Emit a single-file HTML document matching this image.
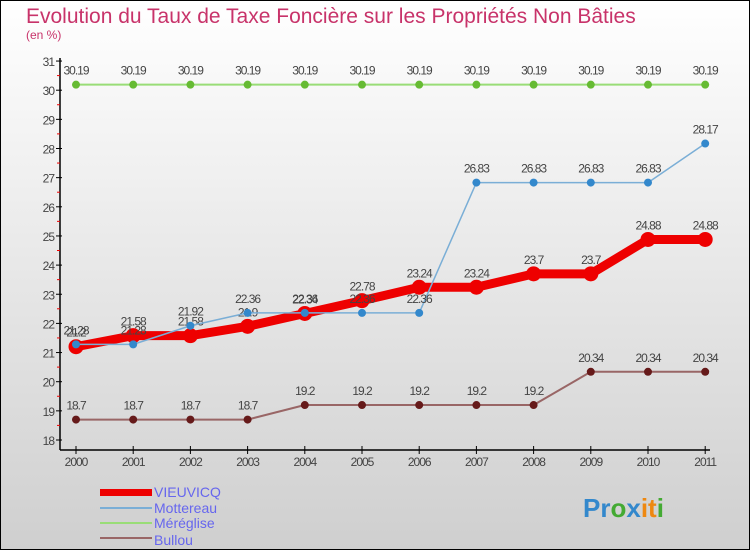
<!DOCTYPE html>
<html><head><meta charset="utf-8"><style>
body{margin:0}
#c{width:750px;height:550px;position:relative;overflow:hidden}
svg{font-family:"Liberation Sans",sans-serif}
</style></head><body>
<div id="c">
<svg id="s" width="750" height="550" xmlns="http://www.w3.org/2000/svg">
<defs><linearGradient id="bg" x1="0" y1="0" x2="0" y2="1"><stop offset="0" stop-color="#ffffff"/><stop offset="1" stop-color="#cfcfcf"/></linearGradient></defs>
<rect x="0.5" y="0.5" width="749" height="549" fill="url(#bg)" stroke="#000"/>
<text x="26" y="23" font-size="21" fill="#c8336a">Evolution du Taux de Taxe Foncière sur les Propriétés Non Bâties</text>
<text x="26" y="39" font-size="12" fill="#c8336a">(en %)</text>
<g id="axes"></g><g id="series"></g>
<g>
<rect x="100" y="489" width="52" height="7" fill="#ee0000"/>
<text x="154" y="497" font-size="14" fill="#6666ee">VIEUVICQ</text>
<rect x="100" y="507" width="52" height="2" fill="#7aaed6"/>
<text x="154" y="513" font-size="14" fill="#6666ee">Mottereau</text>
<rect x="100" y="522" width="52" height="2" fill="#99dd77"/>
<text x="154" y="528" font-size="14" fill="#6666ee">Méréglise</text>
<rect x="100" y="537" width="52" height="2" fill="#996666"/>
<text x="154" y="545" font-size="14" fill="#6666ee">Bullou</text>
</g>
<text x="583" y="517" font-size="26" font-weight="bold"><tspan fill="#3388cc">Pr</tspan><tspan fill="#44aa33">o</tspan><tspan fill="#3388cc">x</tspan><tspan fill="#ee8811">it</tspan><tspan fill="#44aa33">i</tspan></text>
</svg></div>
<script>
const years=[2000,2001,2002,2003,2004,2005,2006,2007,2008,2009,2010,2011];
const yTicks=[18,19,20,21,22,23,24,25,26,27,28,29,30,31];
const vieuvicq=[21.2,21.58,21.58,21.9,22.34,22.78,23.24,23.24,23.7,23.7,24.88,24.88];
const mottereau=[21.28,21.28,21.92,22.36,22.36,22.36,22.36,26.83,26.83,26.83,26.83,28.17];
const mereglise=[30.19,30.19,30.19,30.19,30.19,30.19,30.19,30.19,30.19,30.19,30.19,30.19];
const bullou=[18.7,18.7,18.7,18.7,19.2,19.2,19.2,19.2,19.2,20.34,20.34,20.34];
const NS="http://www.w3.org/2000/svg";
const xs=i=>76+i*57.2, ys=v=>440-(v-18)*29.15;
function mk(t,a,p){const e=document.createElementNS(NS,t);for(const k in a)e.setAttribute(k,a[k]);p.appendChild(e);return e;}
const ax=document.getElementById('axes'),sg=document.getElementById('series');
let l=mk('line',{x1:60,y1:58,x2:60,y2:450,stroke:'#000','stroke-width':1.5},ax);


l=mk('line',{x1:60,y1:450,x2:710,y2:450,stroke:'#000','stroke-width':1.5},ax);


yTicks.forEach(v=>{const y=ys(v);mk('line',{x1:56,y1:y,x2:62,y2:y,stroke:'#000'},ax);
if(v<31)mk('line',{x1:57,y1:y-14.6,x2:60,y2:y-14.6,stroke:'#e00'},ax);
const t=mk('text',{x:54,y:y+5,'text-anchor':'end','font-size':12,fill:'#444','letter-spacing':'-1'},ax);t.textContent=v;

});
years.forEach((yr,i)=>{const x=xs(i);mk('line',{x1:x,y1:446,x2:x,y2:454,stroke:'#000'},ax);
const t=mk('text',{x:x,y:466,'text-anchor':'middle','font-size':12,fill:'#444','letter-spacing':'-1'},ax);t.textContent=yr;

});
function draw(name,vals,col,w,r,dot){
const g=mk('g',{},sg);


mk('polyline',{points:vals.map((v,i)=>xs(i)+','+ys(v)).join(' '),fill:'none',stroke:col,'stroke-width':w,'stroke-linejoin':'round'},g);
vals.forEach((v,i)=>{const c=mk('circle',{cx:xs(i),cy:ys(v),r:r,fill:dot},g);


const t=mk('text',{x:xs(i),y:ys(v)-10,'text-anchor':'middle','font-size':12,fill:'#444','letter-spacing':'-1'},g);t.textContent=v;

});}
draw('mereglise',mereglise,'#99dd77',2,4,'#66bb33');
draw('bullou',bullou,'#996666',2,4,'#661a1a');
draw('vieuvicq',vieuvicq,'#ee0000',9,7.5,'#ee0000');
draw('mottereau',mottereau,'#7aaed6',1.5,4,'#3388cc');
</script>
</body></html>
